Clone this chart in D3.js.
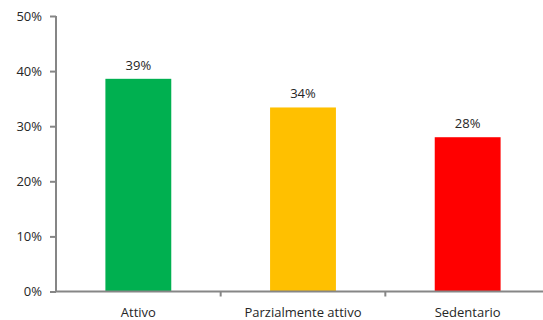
<!DOCTYPE html>
<html>
<head>
<meta charset="utf-8">
<script src="https://cdn.jsdelivr.net/npm/d3@7"></script>
<style>
  body { margin: 0; background: #fff; }
  #chart { width: 543px; height: 320px; overflow: hidden; }
  text { font-family: "Open Sans", "Liberation Sans", sans-serif; fill: #262626; }
</style>
</head>
<body>
<div id="chart"></div>
<script>
// data
var categories = ["Attivo", "Parzialmente attivo", "Sedentario"];
var values = [38.6, 33.4, 28.0];
var valueLabels = ["39%", "34%", "28%"];
var barColors = ["#00b050", "#ffc000", "#ff0000"];
var yTicks = [0, 10, 20, 30, 40, 50];

var margin = { top: 16, left: 56 };
var width = 494;   // plot runs past the right edge, like the original
var height = 275.5;

var svg = d3.select("#chart")
    .append("svg")
    .attr("width", 543)
    .attr("height", 320)
    .append("g")
    .attr("transform", "translate(" + margin.left + "," + margin.top + ")");

var xScale = d3.scaleBand()
    .domain(categories)
    .range([0, width])
    .paddingInner(0.6)
    .paddingOuter(0.3);

var yScale = d3.scaleLinear()
    .domain([0, 50])
    .range([height, 0]);

// bars
svg.selectAll(".bar")
    .data(values)
    .enter().append("rect")
    .attr("class", "bar")
    .attr("x", function (d, i) { return xScale(categories[i]); })
    .attr("width", xScale.bandwidth())
    .attr("y", function (d) { return yScale(d); })
    .attr("height", function (d) { return height - yScale(d); })
    .attr("fill", function (d, i) { return barColors[i]; });

// value labels
svg.selectAll(".val")
    .data(values)
    .enter().append("text")
    .attr("class", "val")
    .attr("x", function (d, i) { return xScale(categories[i]) + xScale.bandwidth() / 2; })
    .attr("y", function (d) { return yScale(d) - 9; })
    .attr("text-anchor", "middle")
    .style("font-size", "13px")
    .text(function (d, i) { return valueLabels[i]; });

// y axis
var yAxis = svg.append("g")
    .call(d3.axisLeft(yScale).tickValues(yTicks).tickSize(6).tickPadding(8)
        .tickFormat(function (d) { return d + "%"; }));
yAxis.select(".domain").attr("stroke", "#868686").attr("stroke-width", 2)
    .attr("d", "M0," + height + "V0");
yAxis.selectAll(".tick line").attr("stroke", "#868686").attr("stroke-width", 2);
yAxis.selectAll("text").style("font-size", "13px").style("fill", "#262626")
    .style("font-family", "'Open Sans', sans-serif");

// x axis with ticks at category boundaries
var step = xScale.step();
var x0 = xScale(categories[0]) - xScale.paddingInner() * step / 2;
var bounds = d3.range(1, categories.length).map(function (i) { return x0 + i * step; });

var xAxis = svg.append("g").attr("transform", "translate(0," + height + ")");
xAxis.append("line")
    .attr("x1", 0).attr("x2", width)
    .attr("stroke", "#868686").attr("stroke-width", 2);
xAxis.selectAll(".bt")
    .data(bounds)
    .enter().append("line")
    .attr("x1", function (d) { return d; })
    .attr("x2", function (d) { return d; })
    .attr("y1", 0).attr("y2", 5)
    .attr("stroke", "#868686").attr("stroke-width", 2);
xAxis.selectAll(".cat")
    .data(categories)
    .enter().append("text")
    .attr("x", function (d) { return xScale(d) + xScale.bandwidth() / 2; })
    .attr("y", 25)
    .attr("text-anchor", "middle")
    .style("font-size", "13px")
    .text(function (d) { return d; });
</script>
</body>
</html>
